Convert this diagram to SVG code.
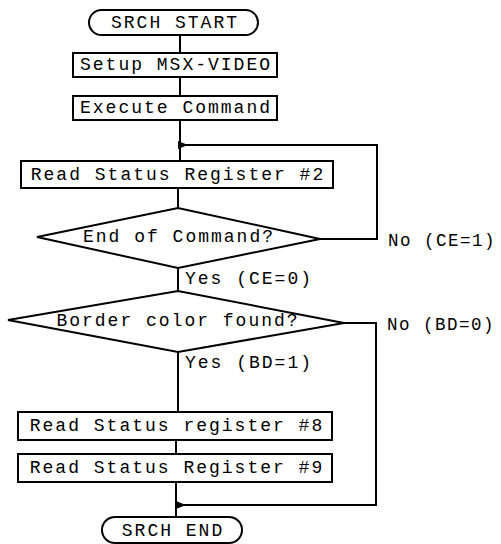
<svg xmlns="http://www.w3.org/2000/svg" width="501" height="544" viewBox="0 0 501 544">
<defs>
<style>
.shape{fill:#fff;stroke:#000;stroke-width:2}
.ln{fill:none;stroke:#000;stroke-width:2}
text{font-family:"Liberation Mono","DejaVu Sans Mono",monospace;font-size:18px;letter-spacing:2px;fill:#000}
.c{text-anchor:middle;dominant-baseline:central}
.l{dominant-baseline:central}
.r{font-size:17.5px;letter-spacing:1.5px}
</style>
<marker id="ah" viewBox="0 0 10 8" refX="1" refY="4" markerWidth="10" markerHeight="8" markerUnits="userSpaceOnUse" orient="auto">
<path d="M0,4 L10,0 L10,8 Z" fill="#000"/>
</marker>
</defs>
<g id="connectors">
<path class="ln" d="M180,35 V53"/>
<path class="ln" d="M180,77 V96"/>
<path class="ln" d="M180,120 V161"/>
<path class="ln" d="M178,188 V208"/>
<path class="ln" d="M178,268 V291"/>
<path class="ln" d="M178,352 V412"/>
<path class="ln" d="M176,440 V454"/>
<path class="ln" d="M176,482 V517"/>
<path class="ln" d="M320,239 H377 V145 H196" />
<path class="ln" d="M196,145 H187" marker-end="url(#ah)"/>
<path class="ln" d="M187,145 H180"/>
<path class="ln" d="M344,323 H376 V505 H194"/>
<path class="ln" d="M194,505 H185" marker-end="url(#ah)"/>
<path class="ln" d="M185,505 H176"/>
</g>
<g id="start">
<rect class="shape" x="89" y="10" width="169" height="25" rx="12.5"/>
<text class="c" x="175" y="23">SRCH START</text>
</g>
<g id="setup">
<rect class="shape" x="73" y="53" width="204" height="24"/>
<text class="c" x="176" y="65">Setup MSX-VIDEO</text>
</g>
<g id="execute">
<rect class="shape" x="73" y="96" width="204" height="24"/>
<text class="c" x="176" y="108">Execute Command</text>
</g>
<g id="read2">
<rect class="shape" x="21" y="161" width="312" height="27"/>
<text class="c" x="178" y="175">Read Status Register #2</text>
</g>
<g id="endcmd">
<polygon class="shape" points="37,237 178,208 320,239 178,268"/>
<text class="c" x="179" y="237">End of Command?</text>
</g>
<g id="border">
<polygon class="shape" points="8,320 178,291 344,323 178,352"/>
<text class="c" x="178" y="321">Border color found?</text>
</g>
<g id="read8">
<rect class="shape" x="18" y="412" width="314" height="28"/>
<text class="c" x="177" y="426">Read Status register #8</text>
</g>
<g id="read9">
<rect class="shape" x="18" y="454" width="314" height="28"/>
<text class="c" x="177" y="468">Read Status Register #9</text>
</g>
<g id="end">
<rect class="shape" x="102" y="517" width="140" height="26" rx="13"/>
<text class="c" x="173" y="531">SRCH END</text>
</g>
<g id="labels">
<text class="l r" x="388" y="241">No (CE=1)</text>
<text class="l" x="185" y="279">Yes (CE=0)</text>
<text class="l r" x="387" y="325">No (BD=0)</text>
<text class="l" x="185" y="363">Yes (BD=1)</text>
</g>
</svg>
